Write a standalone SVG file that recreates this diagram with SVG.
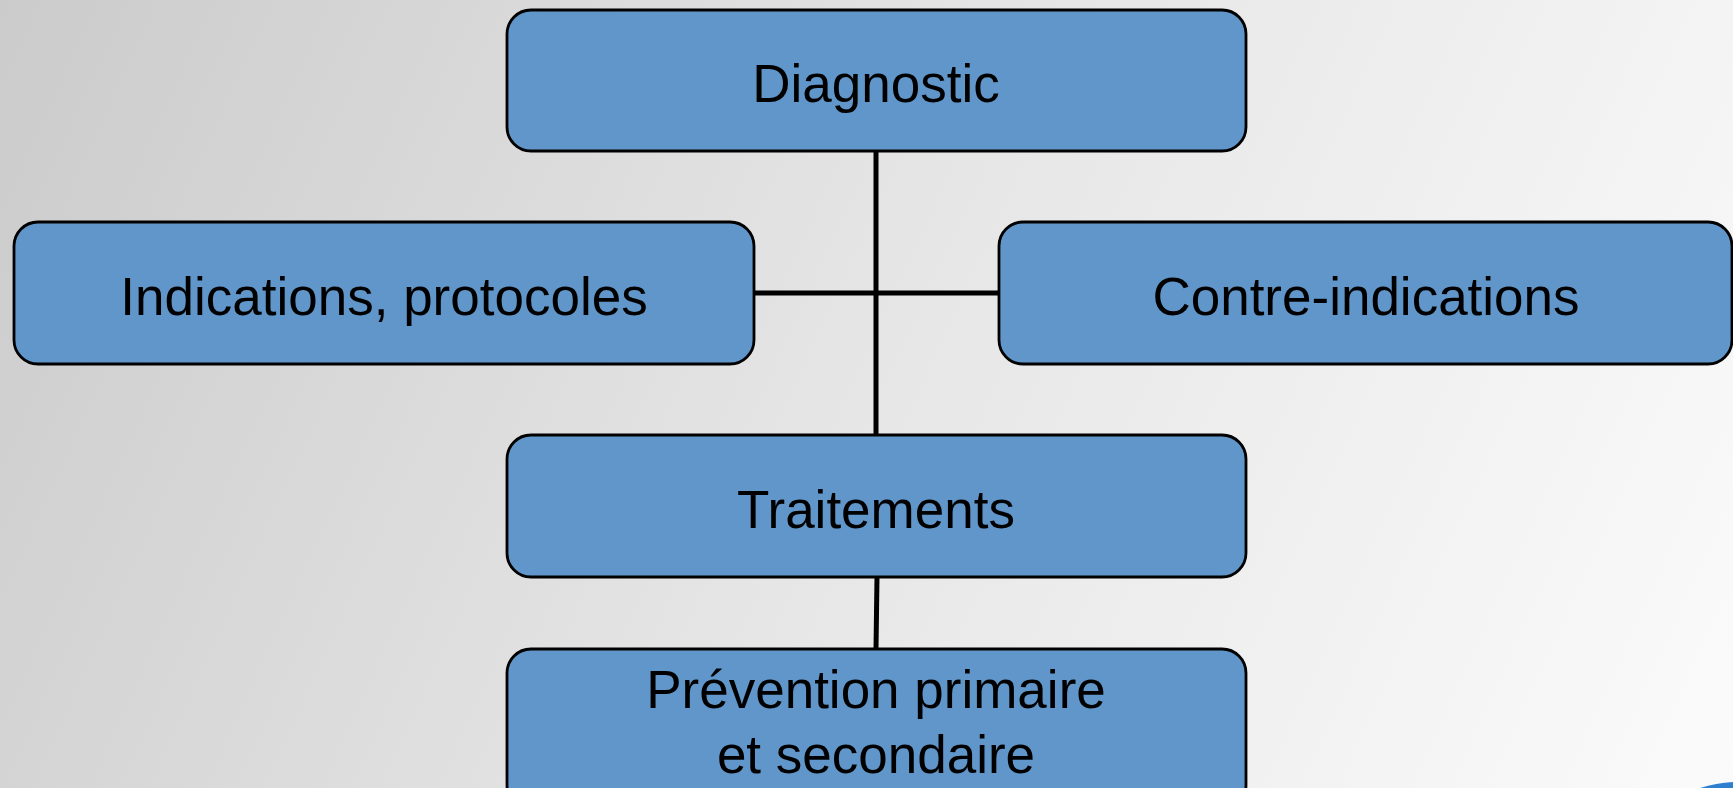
<svg xmlns="http://www.w3.org/2000/svg" width="1733" height="788" viewBox="0 0 1733 788">
<defs>
<linearGradient id="bg" x1="0" y1="0" x2="1733" y2="788" gradientUnits="userSpaceOnUse">
<stop offset="0" stop-color="#cbcbcb"/>
<stop offset="0.5" stop-color="#e6e6e6"/>
<stop offset="1" stop-color="#fbfbfb"/>
</linearGradient>
<style>
.box{fill:#6096c9;stroke:#000;stroke-width:2.8}
.lbl{font-family:"Liberation Sans",Arial,sans-serif;font-size:53px;fill:#000;text-anchor:middle}
.conn{stroke:#000;stroke-width:5;fill:none}
</style>
</defs>
<rect x="0" y="0" width="1733" height="788" fill="url(#bg)"/>
<path d="M1700 788 Q1716 783 1733 782 L1733 788 Z" fill="#2f7fd0"/>
<g id="connectors">
<line class="conn" x1="876" y1="151" x2="876" y2="435"/>
<line class="conn" x1="754" y1="293" x2="999" y2="293"/>
<line class="conn" x1="877" y1="577" x2="876" y2="649"/>
</g>
<g id="diagnostic">
<rect class="box" x="507" y="10" width="739" height="141" rx="24"/>
<text class="lbl" x="876" y="102">Diagnostic</text>
</g>
<g id="indications">
<rect class="box" x="14" y="222" width="740" height="142" rx="24"/>
<text class="lbl" x="384" y="315">Indications, protocoles</text>
</g>
<g id="contre-indications">
<rect class="box" x="999" y="222" width="733" height="142" rx="24"/>
<text class="lbl" x="1366" y="315">Contre-indications</text>
</g>
<g id="traitements">
<rect class="box" x="507" y="435" width="739" height="142" rx="24"/>
<text class="lbl" x="876" y="528">Traitements</text>
</g>
<g id="prevention">
<rect class="box" x="507" y="649" width="739" height="160" rx="24"/>
<text class="lbl" x="876" y="708">Prévention primaire</text>
<text class="lbl" x="876" y="773">et secondaire</text>
</g>
</svg>
